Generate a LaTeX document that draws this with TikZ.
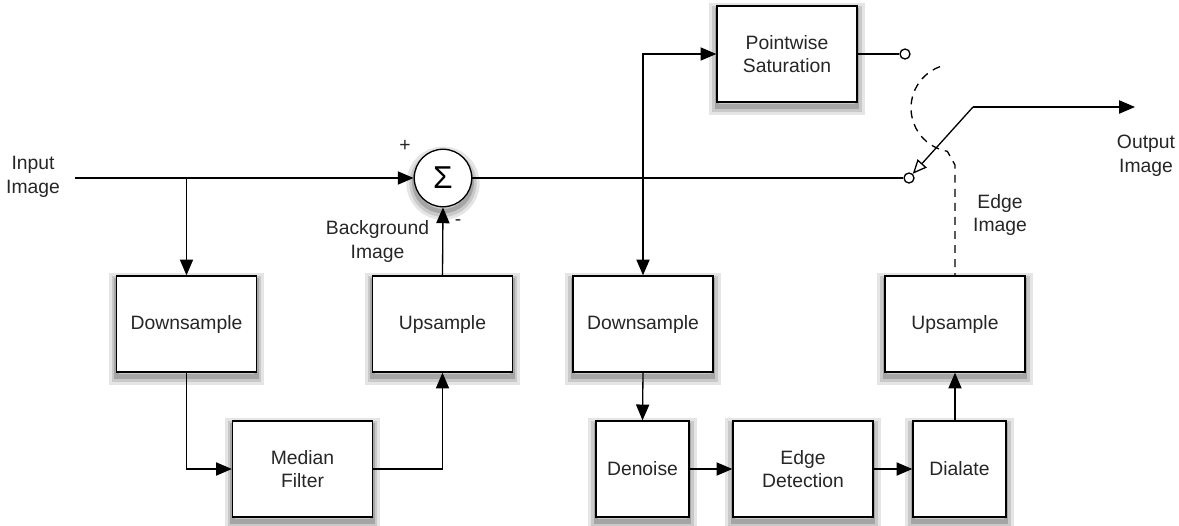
\documentclass[tikz,border=0pt]{standalone}
\usepackage{fontspec}
\setmainfont{Liberation Sans}
\usetikzlibrary{arrows.meta}
\tikzset{
  sombra/.style={
    preaction={draw=black, draw opacity=0.10, line width=9pt, transform canvas={yshift=-3pt}},
    preaction={draw=black, draw opacity=0.12, line width=5.5pt, transform canvas={yshift=-3pt}},
    preaction={draw=black, draw opacity=0.18, line width=2.5pt, transform canvas={yshift=-2.5pt}}},
  bloque/.style={draw, fill=white, sombra, minimum width=2.8cm, minimum height=1.92cm, align=center, text=black!85},
  bloquechico/.style={bloque, minimum width=1.86cm},
  sumador/.style={circle, draw, fill=white, sombra, minimum size=1.15cm, inner sep=0pt},
  borne/.style={circle, draw, fill=white, minimum size=0.2cm, inner sep=0pt},
  etiqueta/.style={align=center, text=black!85}
}
\begin{document}
\begin{tikzpicture}[font=\fontsize{11}{13.5}\selectfont, line width=0.75pt, >={Triangle[length=9pt,width=7.5pt]}]
            \useasboundingbox (0,0) rectangle (23.58,-10.5);
            % Entrada y sumador
            \node[etiqueta] (entrada) at (0.66,-3.54) {Input\\Image};
            \node[sumador] (suma) at (8.86,-3.56) {\fontsize{18}{18}\selectfont Σ};
            \node[etiqueta] (mas) at (8.1,-2.92) {+};
            \node[etiqueta] (menos) at (9.16,-4.46) {-};
            \node[etiqueta] (fondotxt) at (7.55,-4.83) {Background\\Image};
            % Rama del fondo
            \node[bloque] (ds1) at (3.73,-6.48) {Downsample};
            \node[bloque] (med) at (6.05,-9.38) {Median\\Filter};
            \node[bloque] (us1) at (8.85,-6.48) {Upsample};
            % Rama de bordes
            \node[bloque] (ps) at (15.74,-1.08) {Pointwise\\Saturation};
            \node[bloque] (ds2) at (12.86,-6.48) {Downsample};
            \node[bloquechico] (dn) at (12.85,-9.38) {Denoise};
            \node[bloque] (ed) at (16.06,-9.38) {Edge\\Detection};
            \node[bloquechico] (dl) at (19.19,-9.38) {Dialate};
            \node[bloque] (us2) at (19.1,-6.48) {Upsample};
            % Conmutador y salida
            \node[borne] (t1) at (18.1,-1.08) {};
            \node[borne] (t2) at (18.18,-3.56) {};
            \coordinate (codo) at (19.46,-2.14);
            \coordinate (salida) at (22.7,-2.14);
            \node[etiqueta] (salidatxt) at (22.92,-3.12) {Output\\Image};
            \node[etiqueta] (bordetxt) at (20.0,-4.3) {Edge\\Image};
            % Conexiones
            \draw[->] (entrada.east |- suma.west) ++(0.17,0) -- (suma.west);
            \draw[->] (ds1.north |- suma) -- (ds1.north);
            \draw[->] (ds1.south) |- (med.west);
            \draw[->] (med.east) -| (us1.south);
            \draw[->] (us1.north) -- (suma.south);
            \draw (suma.east) -- (t2.west);
            \draw[->] (ds2.north |- suma) |- (ps.west);
            \draw[->] (ds2.north |- suma) -- (ds2.north);
            \draw[->] (ds2.south) -- (dn.north);
            \draw[->] (dn.east) -- (ed.west);
            \draw[->] (ed.east) -- (dl.west);
            \draw[->] (dl.north -| us2) -- (us2.south);
            \draw (ps.east) -- (t1.west);
            \draw[->] (codo) -- (salida);
            \draw[-{Triangle[open,length=8pt,width=7pt]}] (codo) -- (t2);
            \draw[dashed, dash pattern=on 4.5pt off 3.5pt] (19.1,-2.16) ++(110:0.88) arc[start angle=110, end angle=260, radius=0.88] -- (19.1,-3.3) -- (us2.north);
        \end{tikzpicture}
\end{document}
